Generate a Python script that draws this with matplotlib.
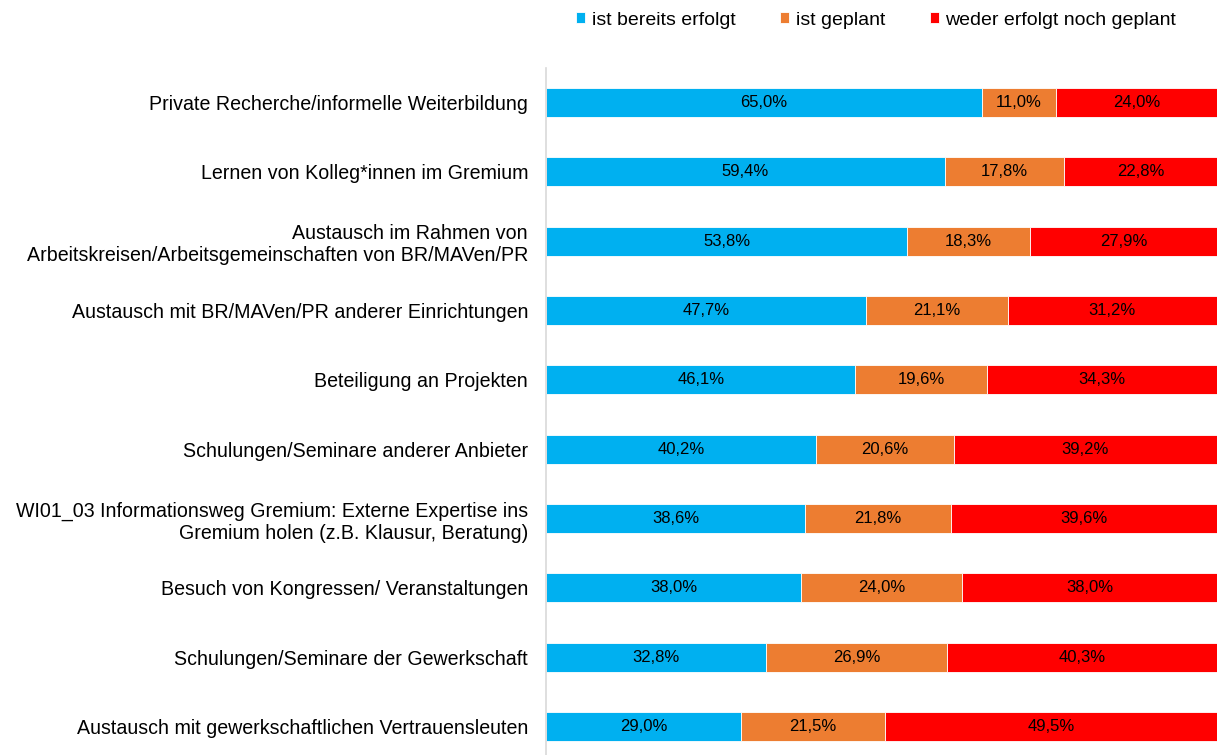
import matplotlib.pyplot as plt
import numpy as np

plt.rcParams['font.family'] = ['Liberation Sans', 'DejaVu Sans']

categories = [
    "Private Recherche/informelle Weiterbildung",
    "Lernen von Kolleg*innen im Gremium",
    "Austausch im Rahmen von\nArbeitskreisen/Arbeitsgemeinschaften von BR/MAVen/PR",
    "Austausch mit BR/MAVen/PR anderer Einrichtungen",
    "Beteiligung an Projekten",
    "Schulungen/Seminare anderer Anbieter",
    "WI01_03 Informationsweg Gremium: Externe Expertise ins\nGremium holen (z.B. Klausur, Beratung)",
    "Besuch von Kongressen/ Veranstaltungen",
    "Schulungen/Seminare der Gewerkschaft",
    "Austausch mit gewerkschaftlichen Vertrauensleuten",
]
erfolgt = [65.0, 59.4, 53.8, 47.7, 46.1, 40.2, 38.6, 38.0, 32.8, 29.0]
geplant = [11.0, 17.8, 18.3, 21.1, 19.6, 20.6, 21.8, 24.0, 26.9, 21.5]
weder = [24.0, 22.8, 27.9, 31.2, 34.3, 39.2, 39.6, 38.0, 40.3, 49.5]

series_names = ["ist bereits erfolgt", "ist geplant", "weder erfolgt noch geplant"]
colors = ["#00B0F0", "#ED7D31", "#FF0000"]

fig = plt.figure(figsize=(12.17, 7.55), dpi=100)
ax = fig.add_axes([0.4487, -0.008, 0.5513, 0.918])

y = np.arange(len(categories))
left = np.zeros(len(categories))
for vals, name, col in zip([erfolgt, geplant, weder], series_names, colors):
    vals = np.array(vals)
    bars = ax.barh(y, vals, left=left, height=0.42, color=col, label=name,
                   edgecolor='white', linewidth=0.6)
    for b, v in zip(bars, vals):
        ax.text(b.get_x() + b.get_width() / 2, b.get_y() + b.get_height() / 2,
                f"{v:.1f}%".replace('.', ','), ha='center', va='center',
                fontsize=12, color='black')
    left += vals

ax.set_xlim(0, 100)
ax.set_ylim(len(categories) - 0.5, -0.5)
ax.set_yticks(y)
ax.set_yticklabels(categories, fontsize=14.1, linespacing=1.2)
ax.tick_params(axis='y', length=0, pad=13)
ax.set_xticks([])
for s in ['top', 'right', 'bottom']:
    ax.spines[s].set_visible(False)
ax.spines['left'].set_color('#d9d9d9')
ax.spines['left'].set_linewidth(1.2)

fig.legend(loc='center', bbox_to_anchor=(0.72, 0.9735), ncol=3, frameon=False,
           fontsize=14, handlelength=0.45, handleheight=0.45, handletextpad=0.35,
           columnspacing=2.3)

fig.savefig("out.png", dpi=100)
